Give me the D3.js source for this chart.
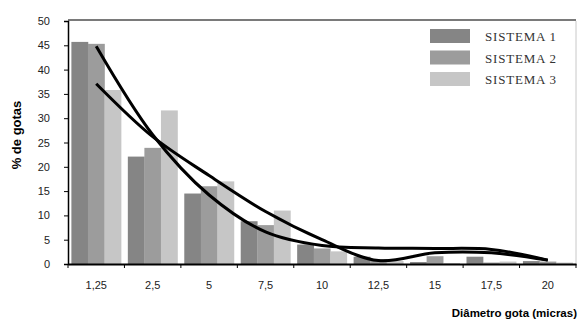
<!DOCTYPE html>
<html>
<head>
<meta charset="utf-8">
<script src="https://cdn.jsdelivr.net/npm/d3@7"></script>
<style>
  body { margin: 0; background: #fff; }
  svg { display: block; }
</style>
</head>
<body>
<script>
// categories and values
var categories = ["1,25", "2,5", "5", "7,5", "10", "12,5", "15", "17,5", "20"];
var seriesNames = ["SISTEMA 1", "SISTEMA 2", "SISTEMA 3"];
var sistema1 = [45.7, 22.1, 14.5, 8.8, 4.0, 1.5, 0.4, 1.5, 0.6];
var sistema2 = [45.3, 23.9, 16.0, 8.0, 3.2, 1.0, 1.6, 0.3, 0.5];
var sistema3 = [35.8, 31.6, 17.0, 11.0, 2.6, 0.6, 0.2, 0.5, 0.3];
// two trend curves
var trendA = [44.8, 26.6, 14.2, 6.6, 3.8, 3.3, 3.2, 3.0, 0.8];
var trendB = [37.1, 26.2, 18.2, 10.8, 5.0, 0.7, 2.3, 2.3, 0.8];
var yTicks = [0, 5, 10, 15, 20, 25, 30, 35, 40, 45, 50];

var colors = ["#858585", "#9c9c9c", "#c6c6c6"];
var width = 578, height = 329;
var plotLeft = 68, plotRight = 576, plotTop = 21, plotBottom = 264;

var svg = d3.select("body").append("svg")
  .attr("width", width)
  .attr("height", height);

var x0 = d3.scaleBand().domain(categories).range([plotLeft, plotRight]).paddingInner(0.12).paddingOuter(0.06);
var x1 = d3.scaleBand().domain([0, 1, 2]).range([0, x0.bandwidth()]);
var y = d3.scaleLinear().domain([0, 50]).range([plotBottom, plotTop]);

// frame top / right
svg.append("line").attr("x1", plotLeft).attr("x2", plotRight).attr("y1", plotTop - 1).attr("y2", plotTop - 1)
  .attr("stroke", "#7a7a7a").attr("stroke-width", 2);
svg.append("line").attr("x1", plotRight).attr("x2", plotRight).attr("y1", plotTop).attr("y2", plotBottom)
  .attr("stroke", "#c8c8c8").attr("stroke-width", 1);

// bars
var series = [sistema1, sistema2, sistema3];
var groups = svg.append("g").selectAll("g")
  .data(categories)
  .enter().append("g")
  .attr("transform", function(d){ return "translate(" + x0(d) + ",0)"; });

groups.selectAll("rect")
  .data(function(d, i){ return series.map(function(s, k){ return {k: k, v: s[i]}; }); })
  .enter().append("rect")
  .attr("x", function(d){ return x1(d.k); })
  .attr("width", x1.bandwidth() + 0.3)
  .attr("y", function(d){ return y(d.v); })
  .attr("height", function(d){ return plotBottom - y(d.v); })
  .style("fill", function(d){ return colors[d.k]; });

// trend lines
var line = d3.line()
  .x(function(d, i){ return x0(categories[i]) + x0.bandwidth() / 2; })
  .y(function(d){ return y(d); })
  .curve(d3.curveCatmullRom.alpha(0.5));

[trendA, trendB].forEach(function(t){
  svg.append("path").datum(t)
    .attr("d", line)
    .attr("fill", "none")
    .attr("stroke", "#000")
    .attr("stroke-width", 3);
});

// y axis
var yAxis = svg.append("g").attr("transform", "translate(" + plotLeft + ",0)")
  .call(d3.axisLeft(y).tickValues(yTicks).tickSize(4).tickPadding(14));
yAxis.select(".domain").attr("stroke", "#000").attr("stroke-width", 1.5);
yAxis.selectAll("text").style("font-family", "Liberation Sans, Arial, sans-serif")
  .style("font-size", "11px").style("fill", "#222");

// x axis
var xAxis = svg.append("g").attr("transform", "translate(0," + plotBottom + ")")
  .call(d3.axisBottom(x0).tickSize(0).tickPadding(17));
xAxis.select(".domain").attr("stroke", "#000").attr("stroke-width", 2);
xAxis.selectAll("text").style("font-family", "Liberation Sans, Arial, sans-serif")
  .style("font-size", "11px").style("fill", "#222");
// tick marks at band boundaries
var bounds = categories.map(function(c){ return x0(c) - x0.step() * x0.paddingInner() / 2; });
bounds.push(plotRight);
svg.append("g").selectAll("line").data(bounds).enter().append("line")
  .attr("x1", function(d){ return d; }).attr("x2", function(d){ return d; })
  .attr("y1", plotBottom).attr("y2", plotBottom + 4)
  .attr("stroke", "#000").attr("stroke-width", 1);

// axis titles
svg.append("text")
  .attr("transform", "translate(21," + 135 + ") rotate(-90)")
  .attr("text-anchor", "middle")
  .style("font-family", "Liberation Sans, Arial, sans-serif")
  .style("font-size", "13px").style("font-weight", "bold")
  .text("% de gotas");

svg.append("text")
  .attr("x", 577).attr("y", 317)
  .attr("text-anchor", "end")
  .style("font-family", "Liberation Sans, Arial, sans-serif")
  .style("font-size", "11.5px").style("font-weight", "bold")
  .text("Diâmetro gota (micras)");

// legend
var legend = svg.append("g").selectAll("g")
  .data(seriesNames)
  .enter().append("g")
  .attr("transform", function(d, i){ return "translate(430," + (29 + i * 21.5) + ")"; });
legend.append("rect")
  .attr("width", 40).attr("height", 14)
  .style("fill", function(d, i){ return colors[i]; });
legend.append("text")
  .attr("x", 55).attr("y", 12)
  .style("font-family", "Liberation Serif, Times New Roman, serif")
  .style("font-size", "13px").style("letter-spacing", "0.8px").style("fill", "#333")
  .text(function(d){ return d; });
</script>
</body>
</html>
